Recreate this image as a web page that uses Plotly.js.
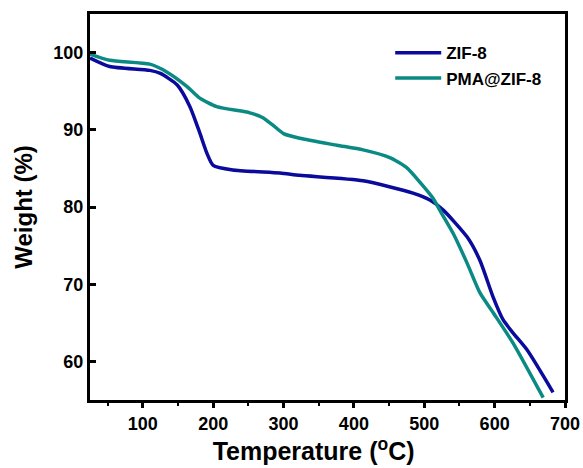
<!DOCTYPE html>
<html>
<head>
<meta charset="utf-8">
<script src="https://cdn.plot.ly/plotly-3.0.1.min.js"></script>
<style>html,body{margin:0;padding:0;background:#fff;}#chart{width:583px;height:468px;}</style>
</head>
<body>
<div id="chart"></div>
<script>
const zifT = [25, 53, 110, 125, 149, 167, 181, 191, 200, 228, 295, 323, 413, 484, 508, 527, 561, 579, 598, 612, 626, 646, 683];
const zifW = [99.3, 98.2, 97.7, 97.3, 95.8, 93.0, 89.6, 87.0, 85.4, 84.8, 84.4, 84.1, 83.4, 81.8, 80.9, 79.6, 76.1, 73.1, 68.3, 65.4, 63.7, 61.5, 56.0];
const pmaT = [25, 53, 110, 134, 163, 181, 205, 252, 270, 285, 300, 323, 376, 413, 451, 475, 494, 512, 522, 541, 561, 579, 598, 626, 669];
const pmaW = [99.8, 99.0, 98.5, 97.5, 95.6, 94.1, 93.0, 92.2, 91.6, 90.6, 89.5, 88.9, 88.0, 87.4, 86.4, 85.1, 83.2, 81.2, 79.6, 76.6, 72.7, 68.9, 66.3, 62.4, 55.3];
const names = ['ZIF-8', 'PMA@ZIF-8'];
const colors = ['#0a0a9c', '#0b8a84'];
const xTicks = [100, 200, 300, 400, 500, 600, 700];
const xMinor = [50, 150, 250, 350, 450, 550, 650];
const yTicks = [60, 70, 80, 90, 100];
const bold = v => '<b>' + v + '</b>';

const traces = [
  {x: zifT, y: zifW, name: bold(names[0]), mode: 'lines', line: {color: colors[0], width: 3.5, shape: 'spline', smoothing: 0.6}},
  {x: pmaT, y: pmaW, name: bold(names[1]), mode: 'lines', line: {color: colors[1], width: 3.5, shape: 'spline', smoothing: 0.6}}
];
const fontFam = 'Liberation Sans, Arial, sans-serif';
const layout = {
  width: 583, height: 468,
  margin: {l: 90, r: 18, t: 14, b: 68},
  paper_bgcolor: '#fff', plot_bgcolor: '#fff',
  showlegend: true,
  legend: {x: 0.632, y: 0.945, xanchor: 'left', yanchor: 'top', bgcolor: 'rgba(0,0,0,0)', itemwidth: 46,
           font: {family: fontFam, size: 17, color: '#000'}, tracegroupgap: 0},
  xaxis: {
    range: [25, 700], tickvals: xTicks, ticktext: xTicks.map(bold), automargin: false,
    showgrid: false, zeroline: false, showline: true, linewidth: 3, linecolor: '#000', mirror: true,
    ticks: 'outside', ticklen: 5, tickwidth: 3, tickcolor: '#000',
    minor: {tickvals: xMinor, ticks: 'outside', ticklen: 3, tickwidth: 2, tickcolor: '#000'},
    tickfont: {family: fontFam, size: 18, color: '#000'},
    title: {text: '<b>Temperature (<sup>o</sup>C)</b>&nbsp;&nbsp;&nbsp;&nbsp;', font: {family: fontFam, size: 25, color: '#000'}, standoff: 6}
  },
  yaxis: {
    range: [55, 105], tickvals: yTicks, ticktext: yTicks.map(bold), automargin: false,
    showgrid: false, zeroline: false, showline: true, linewidth: 3, linecolor: '#000', mirror: true,
    ticks: 'inside', ticklen: 6, tickwidth: 3, tickcolor: '#000',
    tickfont: {family: fontFam, size: 18, color: '#000'},
    title: {text: '<b>Weight (%)</b>', font: {family: fontFam, size: 24, color: '#000'}, standoff: 14}
  }
};
Plotly.newPlot('chart', traces, layout, {displayModeBar: false, staticPlot: true});
</script>
</body>
</html>
